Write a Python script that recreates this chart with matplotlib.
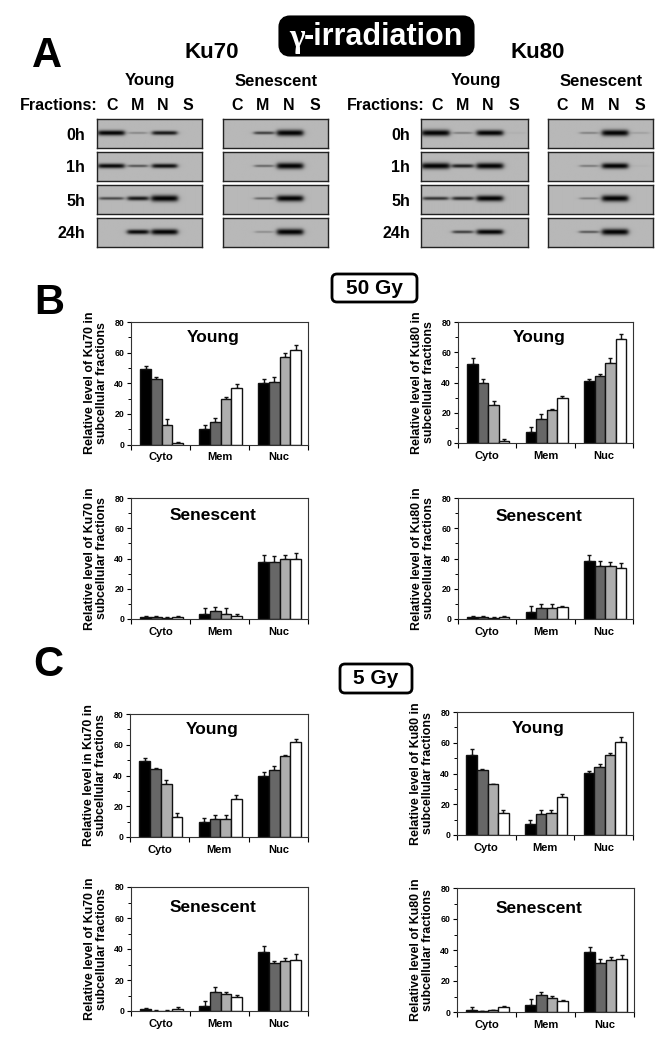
"""
plot.py - gamma-irradiation Ku70 / Ku80 fractions figure
"""
import matplotlib
matplotlib.use("Agg")
import matplotlib.pyplot as plt
import numpy as np
from matplotlib.patches import FancyBboxPatch
from matplotlib.ticker import MultipleLocator

plt.rcParams["font.family"] = ["Liberation Sans", "DejaVu Sans"]
plt.rcParams["font.weight"] = "bold"

W, H = 668, 1050

CATEGORIES = ["Cyto", "Mem", "Nuc"]
TIMES = ["0h", "1h", "5h", "24h"]
LANES = ["C", "M", "N", "S"]
BAR_COLORS = ["#000000", "#676767", "#aeaeae", "#ffffff"]

# band strength per row (0h..24h), lane order C M N S
KU70_YOUNG_BANDS = [[0.90, 0.25, 0.78, 0], [0.85, 0.50, 0.82, 0], [0.55, 0.78, 1.00, 0], [0, 0.85, 0.95, 0]]
KU70_SEN_BANDS = [[0, 0.60, 1.00, 0], [0, 0.42, 1.00, 0], [0, 0.40, 0.98, 0], [0, 0.22, 1.00, 0]]
KU80_YOUNG_BANDS = [[1.00, 0.30, 0.95, 0.04], [1.00, 0.75, 0.98, 0], [0.65, 0.70, 0.95, 0], [0, 0.60, 0.90, 0]]
KU80_SEN_BANDS = [[0, 0.28, 1.00, 0.12], [0, 0.32, 0.95, 0.03], [0, 0.30, 1.00, 0], [0, 0.48, 1.00, 0]]

# lane centre and width, as a fraction of the blot width
YOUNG_LANE_CENTERS = [0.135, 0.39, 0.645, 0.90]
SEN_LANE_CENTERS = [0.13, 0.39, 0.64, 0.88]
LANE_WIDTHS = [0.26, 0.21, 0.25, 0.22]

# bar heights and upper error, [Cyto, Mem, Nuc] x 4 time points
B_KU70_YOUNG = [[49, 43, 13, 1], [10, 15, 30, 37], [40, 41, 57, 62]]
B_KU70_YOUNG_ERR = [[2.5, 1.2, 3.5, 0.8], [2.5, 2, 1.2, 2.5], [3, 3, 2.5, 3]]
B_KU80_YOUNG = [[52, 40, 25, 1.5], [7, 16, 22, 30], [41, 44, 53, 69]]
B_KU80_YOUNG_ERR = [[4.5, 2.5, 3, 1], [3.5, 3.5, 0.7, 1.2], [1.5, 1.5, 3.5, 3]]
B_KU70_SEN = [[1, 1, 0.8, 1], [3.5, 5, 3.5, 2], [38, 37.5, 39.5, 40]]
B_KU70_SEN_ERR = [[1.2, 0.8, 0.5, 1.2], [3.5, 3, 4, 1.5], [4.5, 4, 3, 3.5]]
B_KU80_SEN = [[1, 1, 0.5, 1], [4.5, 7, 7, 8], [38.5, 35, 35, 34]]
B_KU80_SEN_ERR = [[1, 1.2, 0.5, 1], [4, 3, 3, 0.5], [3.5, 3.5, 3, 3]]
C_KU70_YOUNG = [[49.5, 44.5, 34.5, 13], [10, 11.5, 12, 25], [40, 43.5, 53, 62]]
C_KU70_YOUNG_ERR = [[1.7, 0.3, 2.5, 2.5], [2.5, 3, 2.2, 2], [2.5, 2.8, 0.5, 1.8]]
C_KU80_YOUNG = [[52, 42, 33, 14], [7, 13.5, 14, 25], [40.5, 44, 52, 60.5]]
C_KU80_YOUNG_ERR = [[4, 1.2, 0.2, 2], [3, 3, 2.2, 1.5], [1, 2, 1.5, 3]]
C_KU70_SEN = [[1, 0.3, 0.3, 1.5], [3, 12.5, 11, 9], [38, 31, 32.5, 33]]
C_KU70_SEN_ERR = [[0.7, 0.2, 0.2, 1.3], [3.5, 3, 1.2, 1.5], [4, 1, 1.5, 3.5]]
C_KU80_SEN = [[1, 0.5, 1, 3.2], [4.5, 11, 9, 7], [38.5, 31.5, 33.5, 34]]
C_KU80_SEN_ERR = [[2, 0.3, 0.5, 0.5], [3.8, 1.8, 1.3, 0.5], [3.5, 3, 2, 3]]


def px_axes(fig, left, top, right, bottom):
    return fig.add_axes([left / W, 1 - bottom / H, (right - left) / W, (bottom - top) / H])


def draw_blot(fig, box, levels, centers):
    """One blot strip; the band shape is only a rendering of the level values."""
    ax = px_axes(fig, *box)
    ny, nx = 60, 220
    yy, xx = np.mgrid[0:1:ny * 1j, 0:1:nx * 1j]
    img = np.full((ny, nx), 0.72)
    for level, cx, width in zip(levels, centers, LANE_WIDTHS):
        if level == 0:
            continue
        half = width / 2 * (0.75 + 0.25 * level)
        across = 0.5 * (np.tanh((xx - cx + half) / 0.025) - np.tanh((xx - cx - half) / 0.025))
        thick = 0.035 + 0.075 * level ** 3
        along = np.exp(-(((yy - 0.48) / thick) ** 2))
        img -= 0.72 * min(1.0, level * 1.15) * across * along
    ax.imshow(np.clip(img, 0, 1), cmap="gray", vmin=0, vmax=1, aspect="auto", interpolation="bilinear")
    ax.set_xticks([])
    ax.set_yticks([])
    for spine in ax.spines.values():
        spine.set_linewidth(1.0)
        spine.set_color("#222222")


def draw_bars(fig, box, values, errors, ylabel, title, title_y):
    ax = px_axes(fig, *box)
    bar_w = 0.18
    for i in range(4):
        xs = [c + 0.5 + (i - 1.5) * bar_w + 0.02 for c in range(3)]
        heights = [row[i] for row in values]
        errs = [row[i] for row in errors]
        ax.bar(xs, heights, width=bar_w, color=BAR_COLORS[i], edgecolor="#111111", linewidth=1.0, zorder=2)
        ax.errorbar(xs, heights, yerr=[[0] * 3, errs], fmt="none", ecolor="#111111",
                    elinewidth=1.0, capsize=1.5, capthick=1.0, zorder=1)
    ax.set_xlim(0, 3)
    ax.set_ylim(0, 80)
    ax.yaxis.set_major_locator(MultipleLocator(20))
    ax.yaxis.set_minor_locator(MultipleLocator(10))
    ax.set_xticks([0, 1, 2, 3], labels=[])
    ax.set_xticks([0.5, 1.5, 2.5], labels=CATEGORIES, minor=True)
    ax.tick_params(axis="x", which="major", length=3.5, width=0.8)
    ax.tick_params(axis="x", which="minor", length=0, pad=5.5, labelsize=8)
    ax.tick_params(axis="y", which="major", length=3, width=0.8, labelsize=6.3, pad=2)
    ax.tick_params(axis="y", which="minor", length=2, width=0.7)
    for spine in ax.spines.values():
        spine.set_linewidth(0.8)
        spine.set_color("#333333")
    ax.set_ylabel(ylabel, fontsize=8.9, fontweight="bold", labelpad=4.5, linespacing=1.0)
    ax.text(1.39, title_y, title, ha="center", va="center", fontsize=12.5, fontweight="bold")


def main():
    fig = plt.figure(figsize=(W / 100, H / 100), dpi=100, facecolor="white")
    page = fig.add_axes([0, 0, 1, 1])
    page.set_xlim(0, W)
    page.set_ylim(H, 0)
    page.axis("off")

    # title box
    page.add_patch(FancyBboxPatch((284, 21), 185, 30, boxstyle="round,pad=0,rounding_size=0.1",
                                  mutation_scale=60, facecolor="black", edgecolor="black", linewidth=8))
    page.text(289, 38, "\u03b3", color="white", ha="left", va="center", fontsize=24,
              family="Liberation Serif", fontweight="bold")
    page.text(304, 37, "-irradiation", color="white", ha="left", va="center", fontsize=22, fontweight="bold")

    # panel letters
    page.text(47, 56, "A", fontsize=30, ha="center", va="center")
    page.text(49, 303, "B", fontsize=30, ha="center", va="center")
    page.text(48, 665, "C", fontsize=30, ha="center", va="center")

    # gel headers
    page.text(212, 53, "Ku70", fontsize=16, ha="center", va="center")
    page.text(538, 53, "Ku80", fontsize=16, ha="center", va="center")
    for x, label in [(150, "Young"), (276, "Senescent"), (476, "Young"), (601, "Senescent")]:
        page.text(x, 81, label, fontsize=12, ha="center", va="center")
    page.text(59, 106, "Fractions:", fontsize=11.5, ha="center", va="center")
    page.text(386, 106, "Fractions:", fontsize=11.5, ha="center", va="center")
    for start, step in [(112, 25.3), (237, 26), (437, 25.5), (562, 26)]:
        for i, lane in enumerate(LANES):
            page.text(start + i * step, 106, lane, fontsize=11.5, ha="center", va="center")

    row_tops = [119, 152, 185, 218]
    row_h = 29
    row_label_y = [135, 168, 201, 234]
    for right_x in (85, 410):
        for y, label in zip(row_label_y, TIMES):
            page.text(right_x, y, label, fontsize=11.5, ha="right", va="center")

    blots = [
        (97, 202, KU70_YOUNG_BANDS, YOUNG_LANE_CENTERS),
        (223, 328, KU70_SEN_BANDS, SEN_LANE_CENTERS),
        (421, 528, KU80_YOUNG_BANDS, YOUNG_LANE_CENTERS),
        (548, 653, KU80_SEN_BANDS, SEN_LANE_CENTERS),
    ]
    for left, right, bands, centers in blots:
        for top, levels in zip(row_tops, bands):
            draw_blot(fig, (left, top, right, top + row_h), levels, centers)

    # dose boxes
    for x0, y0, w, h, label in [(335, 277, 79, 22, "50 Gy"), (343, 667, 66, 23, "5 Gy")]:
        page.add_patch(FancyBboxPatch((x0, y0), w, h, boxstyle="round,pad=3,rounding_size=5",
                                      facecolor="white", edgecolor="black", linewidth=2))
        page.text(x0 + w / 2, y0 + h / 2, label, fontsize=15, ha="center", va="center")

    label70 = "Relative level of Ku70 in\nsubcellular fractions"
    label80 = "Relative level of Ku80 in\nsubcellular fractions"
    draw_bars(fig, (131, 322, 308, 444.5), B_KU70_YOUNG, B_KU70_YOUNG_ERR, label70, "Young", 70)
    draw_bars(fig, (458, 322, 633, 443), B_KU80_YOUNG, B_KU80_YOUNG_ERR, label80, "Young", 70)
    draw_bars(fig, (131, 498, 308, 619), B_KU70_SEN, B_KU70_SEN_ERR, label70, "Senescent", 68.5)
    draw_bars(fig, (458, 498, 633, 619), B_KU80_SEN, B_KU80_SEN_ERR, label80, "Senescent", 68)
    draw_bars(fig, (130, 714, 308, 837), C_KU70_YOUNG, C_KU70_YOUNG_ERR,
              "Relative level in Ku70 in\nsubcellular fractions", "Young", 70)
    draw_bars(fig, (457, 712, 633, 835), C_KU80_YOUNG, C_KU80_YOUNG_ERR, label80, "Young", 69.5)
    draw_bars(fig, (131, 887, 308, 1011), C_KU70_SEN, C_KU70_SEN_ERR, label70, "Senescent", 67)
    draw_bars(fig, (457, 888, 634, 1012), C_KU80_SEN, C_KU80_SEN_ERR, label80, "Senescent", 67)

    fig.savefig("out.png", dpi=100, facecolor="white")


if __name__ == "__main__":
    main()
